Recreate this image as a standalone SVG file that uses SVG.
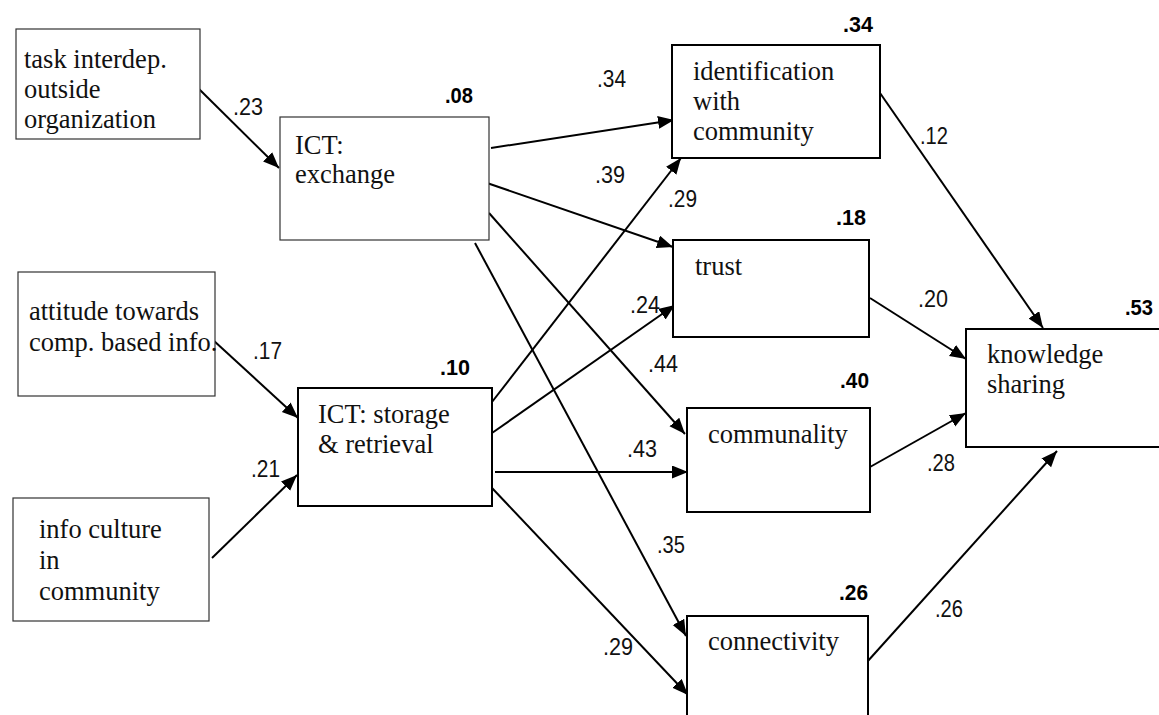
<svg xmlns="http://www.w3.org/2000/svg" width="1159" height="715" viewBox="0 0 1159 715">
<style>
.bg{fill:#fff}
.thin{fill:#fff;stroke:#333;stroke-width:1.2}
.thick{fill:#fff;stroke:#000;stroke-width:2}
.nt{font-family:"Liberation Serif","Times New Roman",serif;font-size:26.5px;fill:#111}
.pl{font-family:"Liberation Sans Narrow","Liberation Sans",Arial,sans-serif;font-size:24px;fill:#111}
.r2{font-family:"Liberation Sans Narrow","Liberation Sans",Arial,sans-serif;font-size:22px;font-weight:bold;fill:#000}
.c{stroke:#000;stroke-width:2;fill:none;marker-end:url(#ah)}
</style>
<defs>
<marker id="ah" markerUnits="userSpaceOnUse" markerWidth="17" markerHeight="14" refX="16" refY="6.5" orient="auto">
<path d="M0,0 L16,6.5 L0,13 z" fill="#000"/>
</marker>
</defs>
<rect class="bg" x="0" y="0" width="1159" height="715"/>
<g id="connectors">
<line class="c" x1="199" y1="89" x2="279" y2="168"/>
<line class="c" x1="491" y1="148" x2="674" y2="120"/>
<line class="c" x1="487" y1="183" x2="673" y2="247"/>
<line class="c" x1="489" y1="213" x2="685" y2="434"/>
<line class="c" x1="475" y1="243" x2="686" y2="636"/>
<line class="c" x1="213" y1="340" x2="298" y2="418"/>
<line class="c" x1="212" y1="558" x2="297" y2="475"/>
<line class="c" x1="492" y1="402" x2="681" y2="158"/>
<line class="c" x1="492" y1="433" x2="675" y2="305"/>
<line class="c" x1="495" y1="472" x2="688" y2="472"/>
<line class="c" x1="492" y1="488" x2="688" y2="695"/>
<line class="c" x1="880" y1="93" x2="1043" y2="328"/>
<line class="c" x1="870" y1="298" x2="966" y2="359"/>
<line class="c" x1="870" y1="467" x2="966" y2="413"/>
<line class="c" x1="867" y1="662" x2="1057" y2="451"/>
<text class="pl" x="233" y="115" textLength="30" lengthAdjust="spacingAndGlyphs">.23</text>
<text class="pl" x="597" y="87" textLength="29" lengthAdjust="spacingAndGlyphs">.34</text>
<text class="pl" x="595" y="183" textLength="30" lengthAdjust="spacingAndGlyphs">.39</text>
<text class="pl" x="668" y="207" textLength="29" lengthAdjust="spacingAndGlyphs">.29</text>
<text class="pl" x="630" y="313" textLength="30" lengthAdjust="spacingAndGlyphs">.24</text>
<text class="pl" x="648" y="372" textLength="30" lengthAdjust="spacingAndGlyphs">.44</text>
<text class="pl" x="627" y="457" textLength="30" lengthAdjust="spacingAndGlyphs">.43</text>
<text class="pl" x="657" y="553" textLength="28" lengthAdjust="spacingAndGlyphs">.35</text>
<text class="pl" x="603" y="655" textLength="30" lengthAdjust="spacingAndGlyphs">.29</text>
<text class="pl" x="253" y="359" textLength="29" lengthAdjust="spacingAndGlyphs">.17</text>
<text class="pl" x="251" y="477" textLength="29" lengthAdjust="spacingAndGlyphs">.21</text>
<text class="pl" x="920" y="144" textLength="28" lengthAdjust="spacingAndGlyphs">.12</text>
<text class="pl" x="918" y="307" textLength="30" lengthAdjust="spacingAndGlyphs">.20</text>
<text class="pl" x="927" y="471" textLength="28" lengthAdjust="spacingAndGlyphs">.28</text>
<text class="pl" x="935" y="617" textLength="28" lengthAdjust="spacingAndGlyphs">.26</text>
</g>
<g id="task">
<rect class="thin" x="16" y="29" width="184" height="110"/>
<text class="nt" x="24" y="68">task interdep.</text>
<text class="nt" x="24" y="98">outside</text>
<text class="nt" x="24" y="128">organization</text>
</g>
<g id="ict-exchange">
<rect class="thin" x="280" y="117" width="209" height="123"/>
<text class="nt" x="295" y="154">ICT:</text>
<text class="nt" x="295" y="183">exchange</text>
<text class="r2" x="445" y="103" textLength="28" lengthAdjust="spacingAndGlyphs">.08</text>
</g>
<g id="attitude">
<rect class="thin" x="18" y="272" width="197" height="124"/>
<text class="nt" x="29" y="320">attitude towards</text>
<text class="nt" x="29" y="351">comp. based info.</text>
</g>
<g id="info-culture">
<rect class="thin" x="13" y="498" width="196" height="123"/>
<text class="nt" x="39" y="538">info culture</text>
<text class="nt" x="39" y="569">in</text>
<text class="nt" x="39" y="600">community</text>
</g>
<g id="ict-storage">
<rect class="thick" x="298" y="388" width="194" height="118"/>
<text class="nt" x="318" y="423">ICT: storage</text>
<text class="nt" x="318" y="453">&amp; retrieval</text>
<text class="r2" x="440" y="375" textLength="30" lengthAdjust="spacingAndGlyphs">.10</text>
</g>
<g id="identification">
<rect class="thick" x="672" y="45" width="208" height="113"/>
<text class="nt" x="693" y="80">identification</text>
<text class="nt" x="693" y="110">with</text>
<text class="nt" x="693" y="140">community</text>
<text class="r2" x="843" y="32" textLength="30" lengthAdjust="spacingAndGlyphs">.34</text>
</g>
<g id="trust">
<rect class="thick" x="673" y="240" width="196" height="97"/>
<text class="nt" x="695" y="275">trust</text>
<text class="r2" x="836" y="225" textLength="30" lengthAdjust="spacingAndGlyphs">.18</text>
</g>
<g id="communality">
<rect class="thick" x="687" y="408" width="183" height="104"/>
<text class="nt" x="708" y="443">communality</text>
<text class="r2" x="840" y="388" textLength="29" lengthAdjust="spacingAndGlyphs">.40</text>
</g>
<g id="connectivity">
<rect class="thick" x="687" y="616" width="181" height="120"/>
<text class="nt" x="708" y="650">connectivity</text>
<text class="r2" x="839" y="600" textLength="29" lengthAdjust="spacingAndGlyphs">.26</text>
</g>
<g id="knowledge">
<rect class="thick" x="966" y="329" width="200" height="118"/>
<text class="nt" x="987" y="363">knowledge</text>
<text class="nt" x="987" y="393">sharing</text>
<text class="r2" x="1125" y="315" textLength="28" lengthAdjust="spacingAndGlyphs">.53</text>
</g>
</svg>
